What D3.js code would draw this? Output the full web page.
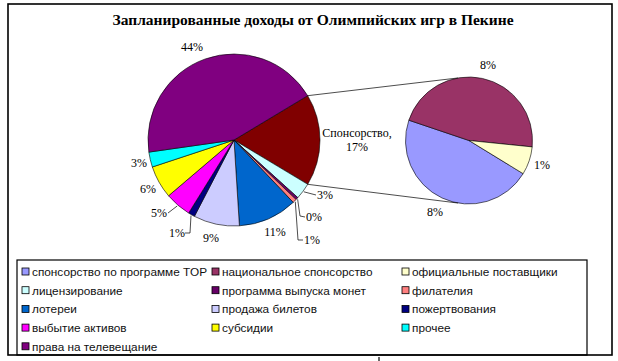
<!DOCTYPE html>
<html><head><meta charset="utf-8">
<script src="https://cdn.jsdelivr.net/npm/d3@7/dist/d3.min.js"></script>
<style>body{margin:0;background:#fff}svg{display:block}</style>
</head><body>
<svg id="c" width="618" height="361"></svg>
<script>
// Data (planned revenues, million USD)
const title = "Запланированные доходы от Олимпийских игр в Пекине";
const categories = ["спонсорство по программе TOP","национальное спонсорство","официальные поставщики","лицензирование","программа выпуска монет","филателия","лотереи","продажа билетов","пожертвования","выбытие активов","субсидии","прочее","права на телевещание"];
const values = [130,130,20,50,8,12,180,140,20,80,100,46,709];
const colors = ["#9999FF","#993366","#FFFFCC","#CCFFFF","#660066","#FF8080","#0066CC","#CCCCFF","#000080","#FF00FF","#FFFF00","#00FFFF","#800080"];
const secondaryIdx = [0,1,2];           // grouped into "Спонсорство"
const groupLabel = "Спонсорство,";
const groupColor = "#800000";

const svg = d3.select("#c");
const total = d3.sum(values);
const pct = v => Math.round(v/total*100) + "%";

// frame
svg.append("rect").attr("x",8).attr("y",4).attr("width",604).attr("height",351)
  .attr("fill","none").attr("stroke","#000").attr("stroke-width",1.6);
svg.append("text").attr("x",313).attr("y",25).attr("text-anchor","middle")
  .attr("font-family","Liberation Serif").attr("font-weight","bold").attr("font-size",15.5).text(title);

// main pie data: group first, then rest
const groupVal = d3.sum(secondaryIdx, i => values[i]);
const mainData = [{name:groupLabel, v:groupVal, c:groupColor, i:-1}]
  .concat(categories.map((n,i)=>({name:n,v:values[i],c:colors[i],i})).filter(d=>!secondaryIdx.includes(d.i)));
const gFrac = groupVal/total;
const start = Math.PI/2 - gFrac*Math.PI;
const pie = d3.pie().sort(null).value(d=>d.v).startAngle(start).endAngle(start+2*Math.PI);
const cx=234, cy=140, r=86;
const arcs = pie(mainData);
const arc = d3.arc().innerRadius(0).outerRadius(r);
const gm = svg.append("g").attr("transform",`translate(${cx},${cy})`);
gm.selectAll("path").data(arcs).join("path").attr("d",arc).attr("fill",d=>d.data.c)
  .attr("stroke","#000").attr("stroke-width",0.6);

// secondary pie
const secData = secondaryIdx.map(i=>({name:categories[i],v:values[i],c:colors[i],i}));
const cx2=469, cy2=140.5, r2=63.5;
const s2 = 121.5*Math.PI/180;
const pie2 = d3.pie().sort(null).value(d=>d.v).startAngle(s2).endAngle(s2+2*Math.PI);
const arcs2 = pie2(secData);
const arc2 = d3.arc().innerRadius(0).outerRadius(r2);
const gs = svg.append("g").attr("transform",`translate(${cx2},${cy2})`);
gs.selectAll("path").data(arcs2).join("path").attr("d",arc2).attr("fill",d=>d.data.c)
  .attr("stroke","#000").attr("stroke-width",0.6);

// connector lines
const pt = (x,y,R,a)=>[x+R*Math.sin(a), y-R*Math.cos(a)];
const ga = arcs[0];
const p1 = pt(cx,cy,r,ga.startAngle), p2 = pt(cx,cy,r,ga.endAngle);
const q1 = pt(cx2,cy2,r2,-10*Math.PI/180), q2 = pt(cx2,cy2,r2,190*Math.PI/180);
svg.append("line").attr("x1",p1[0]).attr("y1",p1[1]).attr("x2",q1[0]).attr("y2",q1[1]).attr("stroke","#000").attr("stroke-width",0.7);
svg.append("line").attr("x1",p2[0]).attr("y1",p2[1]).attr("x2",q2[0]).attr("y2",q2[1]).attr("stroke","#000").attr("stroke-width",0.7);

// labels
const lf = {"font-family":"Liberation Serif","font-size":12};
function lab(x,y,t,anchor){
  const e=svg.append("text").attr("x",x).attr("y",y).attr("text-anchor",anchor||"middle").text(t);
  for(const k in lf) e.attr(k,lf[k]);
}
const byName = {}; arcs.forEach(a=>byName[a.data.name]=a);
const labPos = {
  "лицензирование":[317,199,"start"],
  "программа выпуска монет":[306,221,"start"],
  "филателия":[304,244,"start"],
  "лотереи":[275,236,"middle"],
  "продажа билетов":[211,242,"middle"],
  "пожертвования":[185,237,"end"],
  "выбытие активов":[167,217,"end"],
  "субсидии":[148,193,"middle"],
  "прочее":[139,167,"middle"],
  "права на телевещание":[192,51,"middle"]
};
arcs.forEach(a=>{
  const p = labPos[a.data.name];
  if(!p) return;
  lab(p[0],p[1],pct(a.data.v),p[2]);
});
lab(357,137,groupLabel); lab(357,151,pct(groupVal));
function leader(a, pts){
  const m=(a.startAngle+a.endAngle)/2; const s=pt(cx,cy,r+1,m);
  svg.append("path").attr("d",d3.line()([s].concat(pts))).attr("fill","none").attr("stroke","#000").attr("stroke-width",0.7);
}
leader(byName["лицензирование"],[[316,195]]);
leader(byName["программа выпуска монет"],[[300,216],[305,217]]);
leader(byName["филателия"],[[298,240],[303,240]]);
leader(byName["пожертвования"],[[190,233],[185,233]]);
leader(byName["выбытие активов"],[[168,213]]);

// secondary labels
const secPos = [[435,216],[488,69],[542,169]];
arcs2.forEach((a,k)=>lab(secPos[k][0],secPos[k][1],pct(a.data.v)));

// legend
svg.append("rect").attr("x",17).attr("y",260).attr("width",570).attr("height",95)
  .attr("fill","none").attr("stroke","#000").attr("stroke-width",1.2);
const colX=[22,212,402], rowY0=272, rowH=18.7;
const lg = svg.append("g");
categories.forEach((n,i)=>{
  const x=colX[i%3], y=rowY0+Math.floor(i/3)*rowH;
  lg.append("rect").attr("x",x).attr("y",y-4).attr("width",7).attr("height",7)
    .attr("fill",colors[i]).attr("stroke","#000").attr("stroke-width",0.8);
  lg.append("text").attr("x",x+10).attr("y",y+4).attr("font-family","Liberation Sans")
    .attr("font-size",11.8).attr("fill","#111").text(n);
});
// page fragment mark at bottom edge
svg.append("line").attr("x1",379).attr("y1",357).attr("x2",379).attr("y2",361).attr("stroke","#000").attr("stroke-width",1.2);
</script>
</body></html>
